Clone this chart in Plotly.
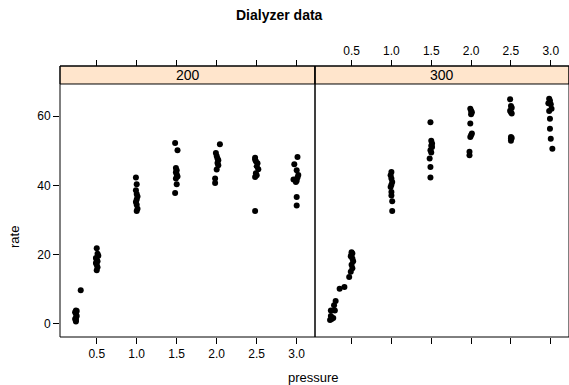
import plotly.graph_objects as go

# ---- data ----
pressure_200 = [0.24, 0.24, 0.23, 0.24, 0.25, 0.24, 0.23, 0.25, 0.24, 0.30,
                0.50, 0.51, 0.52, 0.49, 0.50, 0.51, 0.49, 0.50, 0.51, 0.50,
                0.99, 1.00, 0.99, 1.00, 1.01, 1.00, 0.99, 1.00, 1.01, 1.00,
                1.48, 1.51, 1.49, 1.50, 1.49, 1.50, 1.51, 1.49, 1.50, 1.48,
                2.04, 1.99, 2.00, 2.01, 2.02, 2.01, 2.02, 2.00, 1.98, 1.98,
                2.48, 2.48, 2.49, 2.51, 2.50, 2.52, 2.49, 2.50, 2.48, 2.48,
                3.01, 2.97, 3.00, 3.02, 3.01, 2.96, 3.00, 2.99, 3.00, 3.00]
rate_200 = [0.6, 1.0, 1.3, 1.6, 2.2, 2.8, 3.3, 3.6, 3.8, 9.6,
            21.8, 20.2, 19.6, 19.0, 18.5, 18.0, 17.5, 17.0, 16.3, 15.4,
            42.3, 40.3, 38.6, 37.5, 36.8, 35.9, 35.2, 34.4, 33.2, 32.6,
            52.3, 50.2, 45.0, 44.4, 43.8, 43.2, 42.6, 42.0, 40.3, 37.8,
            51.9, 49.4, 48.5, 47.8, 47.3, 46.5, 45.8, 44.6, 42.0, 40.7,
            48.0, 47.5, 47.0, 46.4, 45.5, 44.7, 43.5, 42.9, 42.4, 32.6,
            48.2, 46.1, 44.4, 43.0, 42.3, 41.7, 41.3, 41.0, 36.6, 34.2]

pressure_300 = [0.23, 0.25, 0.27, 0.24, 0.29, 0.28, 0.30, 0.24, 0.35, 0.41,
                0.47, 0.49, 0.51, 0.50, 0.52, 0.51, 0.49, 0.50, 0.51, 0.50,
                1.00, 0.99, 1.00, 1.01, 1.00, 0.99, 1.00, 1.00, 1.01, 1.01,
                1.49, 1.50, 1.51, 1.50, 1.51, 1.49, 1.50, 1.48, 1.49, 1.49,
                1.99, 2.00, 2.01, 2.00, 1.99, 2.01, 2.00, 1.99, 1.98, 1.98,
                2.49, 2.50, 2.51, 2.49, 2.50, 2.51, 2.50, 2.51, 2.50, 2.50,
                2.98, 2.99, 2.97, 3.00, 3.01, 2.98, 2.99, 2.99, 3.00, 3.02]
rate_300 = [1.0, 1.3, 1.6, 2.2, 3.8, 5.3, 6.5, 3.8, 10.1, 10.6,
            13.5, 15.0, 16.0, 17.0, 18.0, 18.8, 19.5, 20.0, 20.3, 20.6,
            43.9, 42.9, 42.0, 41.0, 40.2, 39.5, 38.1, 37.1, 35.4, 32.6,
            58.3, 52.9, 52.1, 51.5, 51.1, 50.2, 49.5, 47.8, 45.3, 42.3,
            62.2, 61.6, 61.2, 60.6, 57.9, 55.0, 54.5, 54.0, 49.7, 48.7,
            64.9, 63.0, 62.5, 61.6, 61.2, 60.8, 54.0, 53.7, 53.5, 52.9,
            65.1, 64.5, 63.8, 63.5, 62.2, 61.5, 59.3, 56.4, 53.5, 50.6]

panels = ["200", "300"]
x_ticks = [0.5, 1.0, 1.5, 2.0, 2.5, 3.0]
x_ticktext = ["0.5", "1.0", "1.5", "2.0", "2.5", "3.0"]
y_ticks = [0, 20, 40, 60]
y_ticktext = ["0", "20", "40", "60"]

FONT = "Liberation Sans, Arial, sans-serif"
XR = [0.041, 3.229]
YR = [-3.9, 69.35]
SPLIT = 0.501
YTOP = 0.9336
TICKSIZE = 12

fig = go.Figure()
fig.add_trace(go.Scatter(x=pressure_200, y=rate_200, mode="markers",
                         marker=dict(color="black", size=6), xaxis="x", yaxis="y",
                         showlegend=False))
fig.add_trace(go.Scatter(x=pressure_300, y=rate_300, mode="markers",
                         marker=dict(color="black", size=6), xaxis="x2", yaxis="y2",
                         showlegend=False))
# invisible helper traces so the top (alternating) axes get drawn
fig.add_trace(go.Scatter(x=pressure_200, y=rate_200, mode="markers",
                         marker=dict(opacity=0), xaxis="x3", yaxis="y",
                         showlegend=False, hoverinfo="skip"))
fig.add_trace(go.Scatter(x=pressure_300, y=rate_300, mode="markers",
                         marker=dict(opacity=0), xaxis="x4", yaxis="y2",
                         showlegend=False, hoverinfo="skip"))

common_x = dict(range=XR, tickvals=x_ticks, ticktext=x_ticktext, ticks="outside",
                ticklen=6, tickcolor="black", showgrid=False, zeroline=False,
                showline=False,
                tickfont=dict(size=TICKSIZE, color="black", family=FONT))

fig.update_layout(
    width=569, height=385,
    margin=dict(l=60, r=0, t=66, b=48),
    paper_bgcolor="white", plot_bgcolor="white",
    font=dict(family=FONT, color="black"),
    xaxis=dict(domain=[0, SPLIT], anchor="y", **common_x),
    xaxis2=dict(domain=[SPLIT, 1], anchor="y2", showticklabels=False, **common_x),
    xaxis3=dict(domain=[0, SPLIT], overlaying="x", side="top", anchor="free",
                position=1, showticklabels=False, **common_x),
    xaxis4=dict(domain=[SPLIT, 1], overlaying="x2", side="top", anchor="free",
                position=1, **common_x),
    yaxis=dict(domain=[0, YTOP], range=YR, anchor="x", tickvals=y_ticks,
               ticktext=y_ticktext, ticks="outside", ticklen=6, tickcolor="black",
               showgrid=False, zeroline=False, showline=False,
               tickfont=dict(size=TICKSIZE, color="black", family=FONT)),
    yaxis2=dict(domain=[0, YTOP], range=YR, anchor="x2", matches="y",
                showticklabels=False, ticks="", showgrid=False, zeroline=False,
                showline=False),
)

shapes = []
for x0, x1 in [(0, SPLIT), (SPLIT, 1)]:
    shapes.append(dict(type="rect", xref="paper", yref="paper", x0=x0, x1=x1,
                       y0=YTOP, y1=1, fillcolor="#FFE5CC",
                       line=dict(color="black", width=1), layer="below"))
    shapes.append(dict(type="rect", xref="paper", yref="paper", x0=x0, x1=x1,
                       y0=0, y1=1, line=dict(color="black", width=1)))
fig.update_layout(shapes=shapes)

annotations = []
for name, (x0, x1) in zip(panels, [(0, SPLIT), (SPLIT, 1)]):
    annotations.append(dict(text=name, x=(x0 + x1) / 2, y=(YTOP + 1) / 2,
                            xref="paper", yref="paper", showarrow=False,
                            font=dict(size=14, family=FONT, color="black"),
                            xanchor="center", yanchor="middle"))
annotations.append(dict(text="<b>Dialyzer data</b>", x=(279 - 60) / 509,
                        y=(337 - 15) / 271, xref="paper", yref="paper",
                        showarrow=False, font=dict(size=14, family=FONT),
                        xanchor="center", yanchor="middle"))
annotations.append(dict(text="pressure", x=(313 - 60) / 509, y=(337 - 377) / 271,
                        xref="paper", yref="paper", showarrow=False,
                        font=dict(size=13, family=FONT),
                        xanchor="center", yanchor="middle"))
annotations.append(dict(text="rate", x=(14 - 60) / 509, y=(337 - 237) / 271,
                        xref="paper", yref="paper", showarrow=False, textangle=-90,
                        font=dict(size=13, family=FONT),
                        xanchor="center", yanchor="middle"))
fig.update_layout(annotations=annotations)

fig.write_html("out.html")
